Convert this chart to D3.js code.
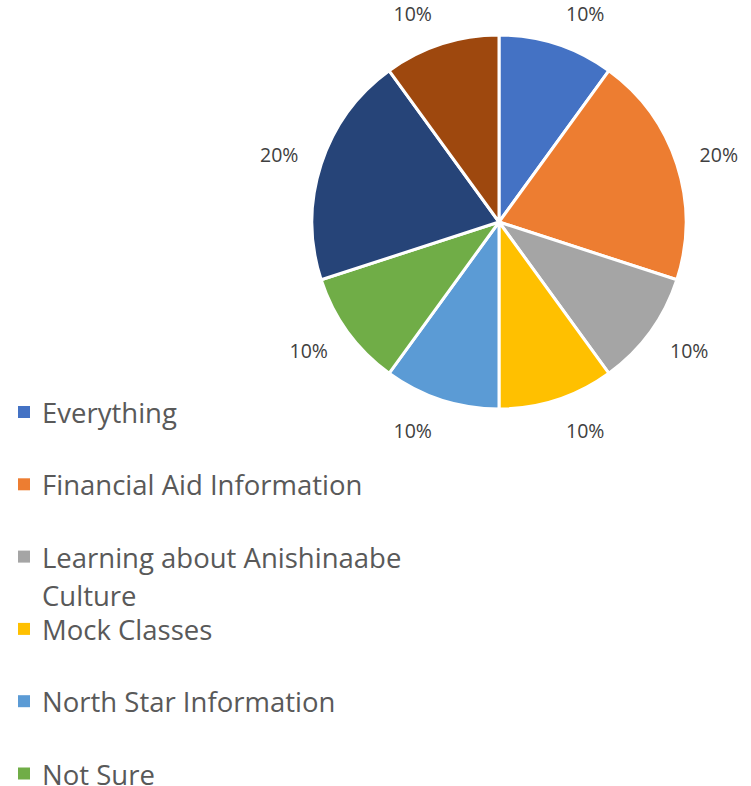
<!DOCTYPE html>
<html>
<head>
<meta charset="utf-8">
<script src="https://cdn.jsdelivr.net/npm/d3@7"></script>
<style>
  body { margin: 0; background: #fff; }
  svg { display: block; }
  text { font-variant-ligatures: none; }
</style>
</head>
<body>
<div id="pie-chart"></div>
<script>
// data (last two categories are cut off in the original legend)
var categories = ["Everything", "Financial Aid Information", "Learning about Anishinaabe Culture",
                  "Mock Classes", "North Star Information", "Not Sure", "Other", "Something Else"];
var shares = [10, 20, 10, 10, 10, 10, 20, 10];
var colors = ["#4472C4", "#ED7D31", "#A5A5A5", "#FFC000", "#5B9BD5", "#70AD47", "#264478", "#9E480E"];

var width = 751, height = 786;
var cx = 499, cy = 222, radius = 187;
var fontFamily = "'Open Sans', 'Noto Sans', sans-serif";

var content = categories.map(function(c, i){ return {name: c, value: shares[i], color: colors[i]}; });

var svg = d3.select("#pie-chart")
            .append("svg")
              .attr("width", width)
              .attr("height", height);

var pie = d3.pie().sort(null).value(function(d){ return d.value; });
var arc = d3.arc().innerRadius(0).outerRadius(radius);
var arcs = pie(content);

var g = svg.append("g").attr("transform", "translate(" + cx + "," + cy + ")");

g.selectAll(".slice")
  .data(arcs)
  .enter().append("path")
    .attr("class", "slice")
    .attr("d", arc)
    .attr("fill", function(d){ return d.data.color; })
    .attr("stroke", "#fff")
    .attr("stroke-width", 3)
    .attr("stroke-linejoin", "round");

// outside-end data labels
var labelArc = d3.arc().innerRadius(208).outerRadius(208);
var halfW = 22, halfH = 11;
g.selectAll(".pct")
  .data(arcs)
  .enter().append("text")
    .attr("class", "pct")
    .attr("x", function(d){
      var a = (d.startAngle + d.endAngle) / 2;
      var p = labelArc.centroid(d);
      return p[0] + (Math.sin(a) >= 0 ? halfW : -halfW);
    })
    .attr("y", function(d){
      var a = (d.startAngle + d.endAngle) / 2;
      var p = labelArc.centroid(d);
      return p[1] - Math.cos(a) * halfH;
    })
    .attr("text-anchor", "middle")
    .attr("dominant-baseline", "central")
    .attr("font-family", fontFamily)
    .attr("font-size", "19.5px")
    .attr("fill", "#404040")
    .text(function(d){ return d.data.value + "%"; });

// legend (rows that fall below the page are clipped, as in the original)
var rowStep = 72.3, legendTop = 412;
var legendRows = content.filter(function(d, i){ return legendTop + i * rowStep < height; });
var legend = svg.append("g").attr("transform", "translate(18," + legendTop + ")");
var items = legend.selectAll(".item")
  .data(legendRows)
  .enter().append("g")
    .attr("class", "item")
    .attr("transform", function(d, i){ return "translate(0," + (i * rowStep) + ")"; });

items.append("rect")
  .attr("x", 0).attr("y", -6)
  .attr("width", 12).attr("height", 12)
  .attr("fill", function(d){ return d.color; });

items.append("text")
  .attr("x", 24)
  .attr("y", 0)
  .attr("dominant-baseline", "central")
  .attr("font-family", fontFamily)
  .attr("font-size", "27.5px")
  .attr("fill", "#595959")
  .each(function(d){
    var t = d3.select(this);
    var words = d.name.split(" ");
    var line = [];
    var ts = t.append("tspan").attr("x", 24).attr("dy", 0);
    words.forEach(function(w){
      line.push(w);
      ts.text(line.join(" "));
      if (ts.node().getComputedTextLength() > 385 && line.length > 1) {
        line.pop();
        ts.text(line.join(" "));
        line = [w];
        ts = t.append("tspan").attr("x", 24).attr("dy", "1.4em").text(w);
      }
    });
  });
</script>
</body>
</html>
